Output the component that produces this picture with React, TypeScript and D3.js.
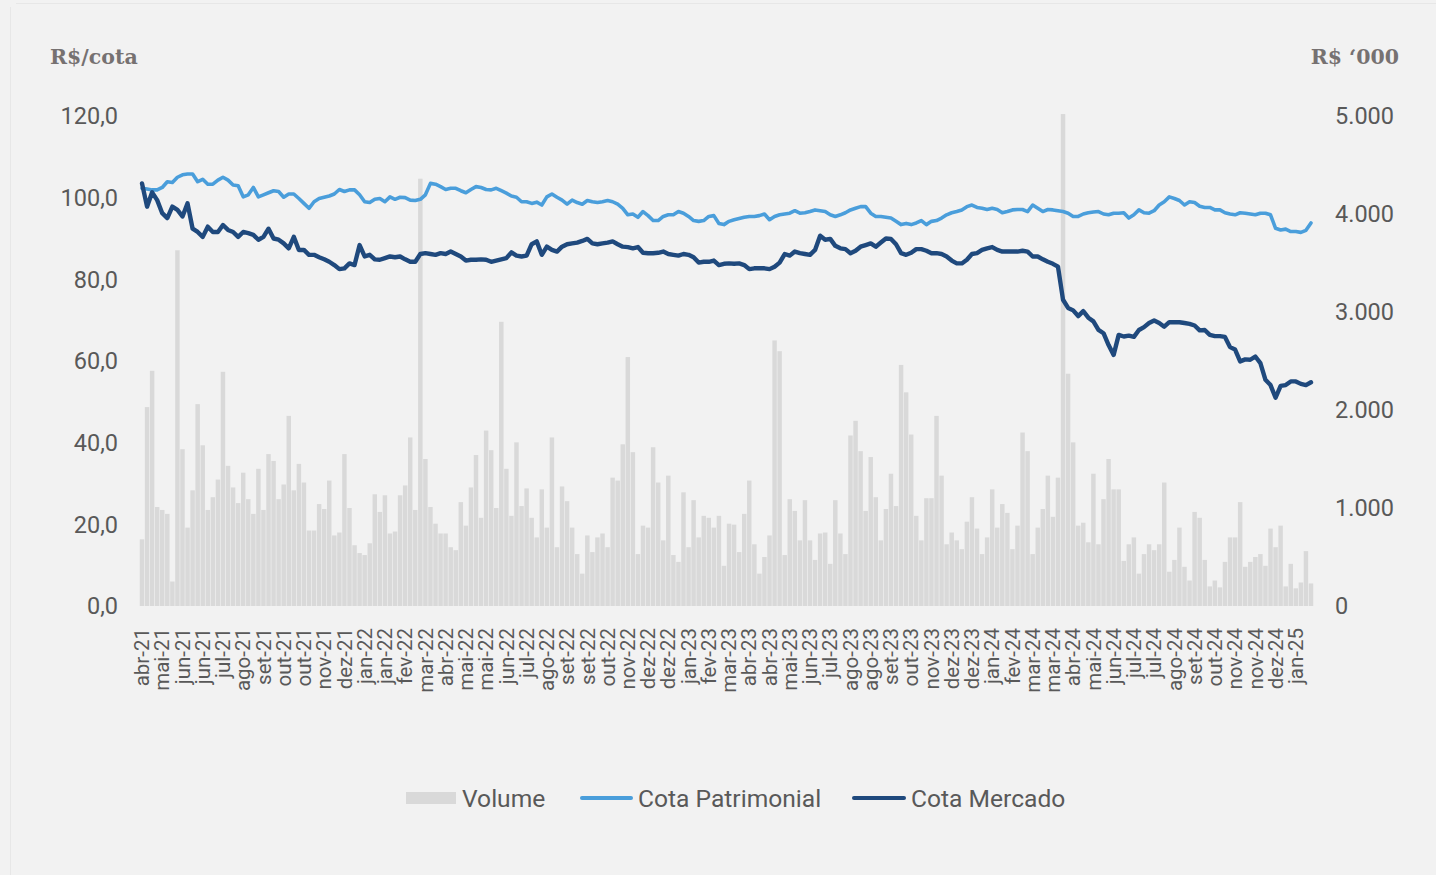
import React from 'react';
import * as d3 from 'd3';

const xLabels = [
  'abr-21', 'mai-21', 'jun-21', 'jun-21', 'jul-21', 'ago-21', 'set-21', 'out-21', 'out-21', 'nov-21',
  'dez-21', 'jan-22', 'jan-22', 'fev-22', 'mar-22', 'abr-22', 'mai-22', 'mai-22', 'jun-22', 'jul-22',
  'ago-22', 'set-22', 'set-22', 'out-22', 'nov-22', 'dez-22', 'dez-22', 'jan-23', 'fev-23', 'mar-23',
  'abr-23', 'abr-23', 'mai-23', 'jun-23', 'jul-23', 'ago-23', 'ago-23', 'set-23', 'out-23', 'nov-23',
  'dez-23', 'dez-23', 'jan-24', 'fev-24', 'mar-24', 'mar-24', 'abr-24', 'mai-24', 'jun-24', 'jul-24',
  'jul-24', 'ago-24', 'set-24', 'out-24', 'nov-24', 'nov-24', 'dez-24', 'jan-25',
];

const cotaPatrimonial = [
  102.3, 102.1, 101.9, 101.9, 102.5, 103.9, 103.7, 105.0, 105.6, 105.8,
  105.8, 103.9, 104.5, 103.3, 103.3, 104.3, 105.0, 104.3, 103.1, 102.9,
  100.2, 100.7, 102.5, 100.2, 100.7, 101.2, 101.7, 101.5, 100.1, 100.9,
  100.9, 99.8, 98.6, 97.4, 99.0, 99.8, 100.1, 100.4, 100.9, 102.0,
  101.5, 101.9, 101.9, 100.7, 99.0, 98.8, 99.6, 99.8, 99.0, 100.2,
  99.6, 100.1, 100.0, 99.4, 99.3, 99.6, 100.7, 103.5, 103.3, 102.7,
  102.0, 102.3, 102.3, 101.7, 101.2, 102.0, 102.7, 102.5, 102.0, 101.9,
  102.3, 101.7, 101.1, 100.4, 100.1, 99.0, 99.0, 98.6, 98.9, 98.2,
  100.2, 100.9, 100.1, 99.4, 98.4, 99.4, 98.8, 98.4, 99.3, 99.0,
  98.8, 99.0, 99.3, 99.0, 98.4, 97.4, 95.8, 96.0, 95.2, 96.6,
  95.6, 94.4, 94.4, 95.4, 95.8, 95.8, 96.6, 96.2, 95.4, 94.4,
  94.2, 94.4, 95.4, 95.6, 93.7, 93.4, 94.2, 94.6, 94.9, 95.2,
  95.4, 95.4, 95.6, 96.0, 94.6, 95.4, 95.8, 96.0, 96.2, 96.8,
  96.2, 96.3, 96.6, 97.0, 96.8, 96.6, 95.8, 95.4, 95.8, 96.3,
  97.0, 97.4, 97.8, 97.8, 96.2, 95.4, 95.4, 95.2, 95.0, 94.2,
  93.4, 93.7, 93.4, 93.8, 94.4, 93.4, 94.2, 94.4, 95.0, 95.8,
  96.3, 96.6, 97.0, 97.8, 98.2, 97.6, 97.4, 97.1, 97.4, 97.1,
  96.3, 96.6, 97.0, 97.1, 97.1, 96.6, 98.2, 97.4, 96.6, 97.1,
  97.0, 96.8, 96.6, 96.2, 95.4, 95.4, 96.0, 96.3, 96.5, 96.6,
  96.0, 95.8, 96.2, 96.2, 96.3, 95.0, 95.8, 97.0, 96.3, 96.2,
  96.8, 98.2, 99.0, 100.2, 99.8, 99.3, 98.2, 99.0, 98.8, 97.9,
  97.6, 97.6, 97.0, 97.0, 96.3, 96.0, 95.8, 96.3, 96.2, 96.0,
  95.8, 96.2, 96.2, 95.8, 92.5, 92.1, 92.3, 91.7, 91.7, 91.5,
  92.0, 93.8,
];

const cotaMercado = [
  103.5, 97.8, 101.3, 99.4, 96.2, 95.0, 97.8, 97.0, 95.4, 98.6,
  92.4, 91.6, 90.4, 92.9, 91.6, 91.6, 93.3, 92.1, 91.6, 90.4,
  91.6, 91.3, 90.9, 89.7, 90.4, 92.4, 90.0, 89.7, 88.8, 87.6,
  90.4, 87.2, 87.2, 86.0, 86.0, 85.4, 84.9, 84.3, 83.5, 82.5,
  82.7, 83.9, 83.5, 88.4, 85.6, 86.0, 84.9, 84.8, 85.2, 85.6,
  85.4, 85.6, 84.9, 84.3, 84.3, 86.2, 86.4, 86.2, 86.0, 86.4,
  86.2, 86.8, 86.2, 85.6, 84.6, 84.8, 84.8, 84.9, 84.8, 84.3,
  84.6, 84.9, 85.2, 86.6, 85.8, 85.6, 85.8, 88.6, 89.3, 86.0,
  88.0, 87.2, 86.8, 88.0, 88.6, 88.8, 89.0, 89.4, 89.9, 88.8,
  88.6, 88.8, 89.0, 89.3, 88.6, 88.0, 87.9, 87.6, 87.9, 86.5,
  86.4, 86.4, 86.5, 86.8, 86.2, 86.0, 85.8, 86.2, 86.0, 85.4,
  84.1, 84.3, 84.3, 84.6, 83.5, 83.8, 83.9, 83.8, 83.9, 83.5,
  82.5, 82.7, 82.7, 82.7, 82.5, 83.1, 84.1, 86.2, 85.8, 86.8,
  86.4, 86.2, 86.0, 87.2, 90.7, 89.7, 89.9, 88.2, 87.6, 87.4,
  86.4, 87.0, 88.0, 88.4, 88.8, 88.0, 89.0, 90.0, 89.9, 88.6,
  86.4, 86.0, 86.5, 87.4, 87.4, 87.0, 86.4, 86.4, 86.2, 85.6,
  84.6, 83.9, 83.9, 84.8, 86.2, 86.4, 87.2, 87.6, 87.9, 87.2,
  86.8, 86.8, 86.8, 86.8, 87.0, 86.8, 85.6, 85.6, 84.9, 84.3,
  83.8, 83.1, 75.0, 73.0, 72.4, 71.0, 72.2, 70.6, 69.7, 67.6,
  66.8, 63.9, 61.5, 66.4, 66.0, 66.2, 65.9, 67.6, 68.3, 69.3,
  69.9, 69.3, 68.4, 69.5, 69.5, 69.5, 69.3, 69.1, 68.7, 67.5,
  67.6, 66.4, 66.1, 66.1, 65.9, 63.4, 62.8, 59.9, 60.4, 60.3,
  61.1, 59.5, 55.4, 54.1, 51.0, 53.9, 54.1, 55.0, 55.0, 54.4,
  54.1, 54.8,
];

const volume = [
  680, 2030, 2400, 1010, 980, 940, 250, 3630, 1600, 800,
  1180, 2060, 1640, 980, 1110, 1290, 2390, 1430, 1210, 1050,
  1360, 1090, 940, 1400, 980, 1550, 1480, 1090, 1240, 1940,
  1180, 1450, 1260, 770, 770, 1040, 990, 1280, 720, 750,
  1550, 1000, 620, 540, 520, 640, 1140, 960, 1130, 740,
  760, 1130, 1230, 1720, 980, 4360, 1500, 1010, 840, 740,
  740, 600, 570, 1060, 820, 1210, 1540, 900, 1790, 1590,
  1000, 2900, 1400, 920, 1670, 1020, 1200, 900, 700, 1190,
  800, 1720, 600, 1220, 1070, 800, 530, 330, 720, 550,
  700, 740, 600, 1310, 1280, 1650, 2540, 1570, 530, 820,
  800, 1620, 1260, 670, 1330, 520, 450, 1160, 600, 1080,
  700, 920, 900, 800, 920, 410, 840, 830, 550, 940,
  1280, 630, 330, 500, 720, 2710, 2600, 520, 1090, 970,
  670, 1080, 670, 470, 740, 750, 430, 1080, 740, 530,
  1740, 1890, 1580, 970, 1520, 1110, 670, 990, 1350, 1020,
  2460, 2180, 1750, 920, 670, 1100, 1100, 1940, 1330, 630,
  750, 670, 580, 860, 1110, 790, 530, 700, 1190, 800,
  1040, 950, 580, 820, 1770, 1580, 530, 800, 990, 1330,
  910, 1310, 5020, 2370, 1670, 820, 850, 650, 1350, 630,
  1090, 1500, 1190, 1190, 460, 630, 700, 330, 530, 630,
  570, 630, 1260, 350, 470, 800, 400, 260, 960, 900,
  470, 200, 260, 190, 450, 700, 700, 1060, 400, 450,
  500, 530, 410, 790, 600, 820, 200, 430, 180, 240,
  560, 230,
];

const leftTicks = [0, 20, 40, 60, 80, 100, 120];
const rightTicks = [0, 1000, 2000, 3000, 4000, 5000];
const labelEvery = 4;

const COLORS = {
  bg: '#f2f2f2',
  text: '#595959',
  title: '#767171',
  volume: '#d9d9d9',
  patrimonial: '#4a9edb',
  mercado: '#1f497d',
};

export default function App() {
  const W = 1436;
  const H = 875;
  const xStart = 142;
  const xEnd = 1311;
  const yBottom = 606;
  const yTop = 116;
  const n = cotaPatrimonial.length;

  const x = d3.scaleLinear().domain([0, n - 1]).range([xStart, xEnd]);
  const yL = d3.scaleLinear().domain([0, 120]).range([yBottom, yTop]);
  const yR = d3.scaleLinear().domain([0, 5000]).range([yBottom, yTop]);
  const step = (xEnd - xStart) / (n - 1);
  const barW = step - 0.6;

  const lineGen = d3
    .line<number>()
    .x((_, i) => x(i))
    .y((d) => yL(d))
    .curve(d3.curveLinear);

  const fmtL = (v: number) => v.toFixed(1).replace('.', ',');
  const fmtR = (v: number) => d3.format(',')(v).replace(/,/g, '.');

  const font = "Roboto, 'Noto Sans', sans-serif";

  return (
    <svg
      width={W}
      height={H}
      style={{ position: 'absolute', left: 0, top: 0, display: 'block' }}
    >
      <rect x={0} y={0} width={W} height={H} fill={COLORS.bg} />
      <line x1={16} y1={3.5} x2={W} y2={3.5} stroke="#e7e7e7" strokeWidth={1} />
      <line x1={10.5} y1={7} x2={10.5} y2={H} stroke="#e7e7e7" strokeWidth={1} />

      {/* axis titles */}
      <text
        x={50}
        y={64}
        fontFamily="'DejaVu Serif', serif"
        fontWeight="bold"
        fontSize={20.5}
        fill={COLORS.title}
      >
        R$/cota
      </text>
      <text
        x={1399}
        y={64}
        textAnchor="end"
        fontFamily="'DejaVu Serif', serif"
        fontWeight="bold"
        fontSize={20.5}
        fill={COLORS.title}
      >
        R$ ‘000
      </text>

      {/* volume bars */}
      <g>
        {volume.map((v, i) => (
          <rect
            key={i}
            x={x(i) - barW / 2}
            y={yR(v)}
            width={barW}
            height={yBottom - yR(v)}
            fill={COLORS.volume}
          />
        ))}
      </g>

      {/* lines */}
      <path
        d={lineGen(cotaPatrimonial) || ''}
        fill="none"
        stroke={COLORS.patrimonial}
        strokeWidth={3.6}
        strokeLinejoin="round"
        strokeLinecap="round"
      />
      <path
        d={lineGen(cotaMercado) || ''}
        fill="none"
        stroke={COLORS.mercado}
        strokeWidth={4.4}
        strokeLinejoin="round"
        strokeLinecap="round"
      />

      {/* left ticks */}
      <g fontFamily={font} fontSize={23.5} fill={COLORS.text}>
        {leftTicks.map((t) => (
          <text key={t} x={118} y={yL(t)} dy="0.35em" textAnchor="end">
            {fmtL(t)}
          </text>
        ))}
      </g>
      {/* right ticks */}
      <g fontFamily={font} fontSize={23.5} fill={COLORS.text}>
        {rightTicks.map((t) => (
          <text key={t} x={1335} y={yR(t)} dy="0.35em" textAnchor="start">
            {fmtR(t)}
          </text>
        ))}
      </g>

      {/* x labels */}
      <g fontFamily={font} fontSize={20.5} fill={COLORS.text}>
        {xLabels.map((lab, j) => {
          const xi = x(j * labelEvery);
          return (
            <text
              key={j}
              transform={`translate(${xi},628) rotate(-90)`}
              textAnchor="end"
              dy="0.35em"
            >
              {lab}
            </text>
          );
        })}
      </g>

      {/* legend */}
      <g fontFamily={font} fontSize={24.6} fill={COLORS.text}>
        <rect x={406} y={792} width={50} height={12} fill={COLORS.volume} />
        <text x={462} y={798} dy="0.35em">Volume</text>
        <line
          x1={582}
          y1={798}
          x2={631}
          y2={798}
          stroke={COLORS.patrimonial}
          strokeWidth={4}
          strokeLinecap="round"
        />
        <text x={638} y={798} dy="0.35em">Cota Patrimonial</text>
        <line
          x1={854}
          y1={798}
          x2={904}
          y2={798}
          stroke={COLORS.mercado}
          strokeWidth={4}
          strokeLinecap="round"
        />
        <text x={911} y={798} dy="0.35em">Cota Mercado</text>
      </g>
    </svg>
  );
}
